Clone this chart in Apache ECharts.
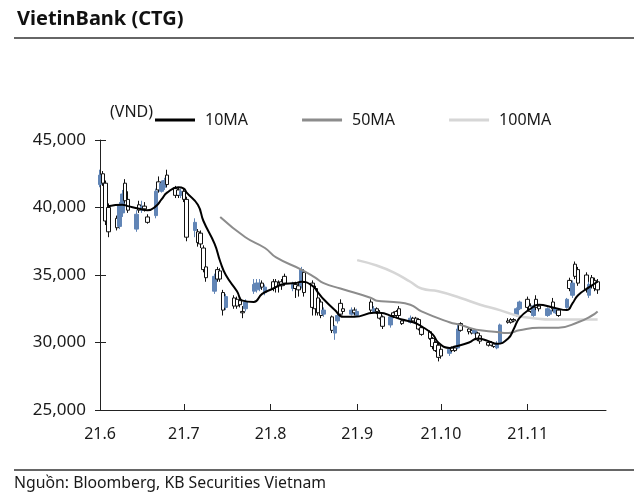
<!DOCTYPE html>
<html><head><meta charset="utf-8">
<script src="https://cdn.jsdelivr.net/npm/echarts@6/dist/echarts.min.js"></script>
<style>html,body{margin:0;padding:0;background:#fff}#c{width:640px;height:502px}</style>
</head><body><div id="c"></div>
<script>
// Trading days (2021)
const dates = [
'2021-06-01','2021-06-02','2021-06-03','2021-06-04','2021-06-07','2021-06-08','2021-06-09','2021-06-10','2021-06-11','2021-06-14','2021-06-15','2021-06-16','2021-06-17','2021-06-18','2021-06-21','2021-06-22','2021-06-23','2021-06-24','2021-06-25','2021-06-28','2021-06-29','2021-06-30',
'2021-07-01','2021-07-02','2021-07-05','2021-07-06','2021-07-07','2021-07-08','2021-07-09','2021-07-12','2021-07-13','2021-07-14','2021-07-15','2021-07-16','2021-07-19','2021-07-20','2021-07-21','2021-07-22','2021-07-23','2021-07-26','2021-07-27','2021-07-28','2021-07-29','2021-07-30',
'2021-08-02','2021-08-03','2021-08-04','2021-08-05','2021-08-06','2021-08-09','2021-08-10','2021-08-11','2021-08-12','2021-08-13','2021-08-16','2021-08-17','2021-08-18','2021-08-19','2021-08-20','2021-08-23','2021-08-24','2021-08-25','2021-08-26','2021-08-27','2021-08-30','2021-08-31',
'2021-09-01','2021-09-06','2021-09-07','2021-09-08','2021-09-09','2021-09-10','2021-09-13','2021-09-14','2021-09-15','2021-09-16','2021-09-17','2021-09-20','2021-09-21','2021-09-22','2021-09-23','2021-09-24','2021-09-27','2021-09-28','2021-09-29','2021-09-30',
'2021-10-01','2021-10-04','2021-10-05','2021-10-06','2021-10-07','2021-10-08','2021-10-11','2021-10-12','2021-10-13','2021-10-14','2021-10-15','2021-10-18','2021-10-19','2021-10-20','2021-10-21','2021-10-22','2021-10-25','2021-10-26','2021-10-27','2021-10-28','2021-10-29',
'2021-11-01','2021-11-02','2021-11-03','2021-11-04','2021-11-05','2021-11-08','2021-11-09','2021-11-10','2021-11-11','2021-11-12','2021-11-15','2021-11-16','2021-11-17','2021-11-18','2021-11-19','2021-11-22','2021-11-23','2021-11-24','2021-11-25','2021-11-26'
];
const openP = [
41700,42500,41800,40000,39200,38600,39600,41800,40600,38400,40200,39800,40100,39300,39400,41900,41200,41500,42400,41400,41300,40900,
41200,40600,38300,38200,38100,37000,35600,33800,35400,35300,33700,32600,33300,33200,33100,32300,32500,33800,33900,34000,34400,33700,
34500,34500,34400,34500,34900,34000,34300,34200,34200,35200,34400,34000,33300,33000,32100,31900,30700,31600,32900,32500,32100,32400,
32000,33000,32300,32500,32200,31900,31300,32200,32300,32500,31600,31500,31800,31800,31700,31100,30800,30300,30000,29800,
29500,29200,29600,29600,29600,31400,31000,30900,30700,30700,30500,30000,30000,29900,29600,30000,31600,31700,31700,32000,32500,
33200,32700,32000,33200,32700,32000,32100,33000,32200,32400,32600,34600,33500,35800,35400,35000,33500,34800,34600,34500
];
const closeP = [
42400,41800,39000,38200,38500,40200,41000,40500,39800,39500,39800,40100,39900,38900,41200,41300,41800,42000,41700,40900,40900,41200,
40600,37800,38900,37400,37300,35400,34800,34900,34700,34700,32400,33400,32700,32700,32800,32200,33000,34300,34400,34400,34100,34100,
34000,34100,34200,34200,34400,34300,34000,33900,35400,33700,32600,32500,32200,32000,32400,30900,31200,32000,32100,32300,32400,32200,
32300,32400,32500,32300,31800,31200,31900,32000,32000,32000,31400,31800,31600,31500,31000,30600,30300,29700,29400,28900,
29000,29500,29400,29400,31000,30900,30800,30700,30900,30200,30100,29800,29800,29700,29900,31300,31500,31500,31600,32500,33000,
32600,32300,32700,32600,32500,32500,32400,32500,32500,32000,33200,34000,34400,34900,34400,33900,34300,34200,34000,33900
];
const lowP = [
41500,41600,38700,37800,38300,38400,39300,40300,39600,38200,39600,39600,39700,38800,39200,41100,41100,41300,41500,40700,40700,40700,
40400,37500,37800,37100,37000,35200,34500,33600,34500,34500,32000,32400,32500,32500,32600,31800,32300,33600,33700,33800,33900,33500,
33800,33700,33700,33900,34200,33800,33300,33400,34000,33400,32000,32000,32000,31800,31900,30700,30200,31400,31900,32100,32000,32000,
31900,32200,32200,32100,31700,31000,31100,31800,31900,31800,31300,31400,31500,31400,30900,30500,30200,29500,29300,28600,
28800,29000,29300,29300,29500,30800,30600,30600,30600,30100,29900,29700,29700,29600,29500,29900,31400,31400,31500,31900,32400,
32400,32200,31900,32400,32300,31900,32000,32300,32100,31900,32500,33800,33300,34700,34200,33700,33300,34000,33800,33600
];
const highP = [
42800,42700,42000,40300,39400,40400,41300,42100,41200,39800,40500,40500,40400,39500,41400,42300,42000,42200,42800,41600,41500,41400,
41400,40800,39200,38400,38300,37200,35800,35100,35600,35500,33900,33600,33500,33400,33300,32700,33200,34700,34700,34700,34600,34300,
34700,34700,34600,34700,35100,34500,34500,34400,35600,35400,34600,34200,33500,33200,32600,32000,31300,32200,33200,32700,32600,32600,
32500,33200,32700,32600,32400,32000,32000,32300,32400,32700,31700,32000,31900,31900,31800,31200,30900,30400,30100,30000,
29700,29600,29700,29700,31300,31500,31100,31000,31000,30800,30600,30100,30100,30000,30100,31400,31800,31800,31800,32600,33100,
33400,32900,32800,33500,32800,32600,32500,33300,32600,32500,33300,34800,34600,36000,35600,35200,34500,35000,34800,34700
];
const ma10Dates = ['2021-06-04','2021-06-09','2021-06-11','2021-06-15','2021-06-18','2021-06-21','2021-06-23','2021-06-25','2021-06-29','2021-07-01','2021-07-02','2021-07-06','2021-07-08','2021-07-12','2021-07-14','2021-07-16','2021-07-20','2021-07-22','2021-07-26','2021-07-29','2021-08-02','2021-08-05','2021-08-10','2021-08-12','2021-08-16','2021-08-18','2021-08-20','2021-08-24','2021-08-27','2021-08-31','2021-09-07','2021-09-09','2021-09-14','2021-09-17','2021-09-21','2021-09-24','2021-09-28','2021-09-30','2021-10-04','2021-10-06','2021-10-11','2021-10-14','2021-10-18','2021-10-21','2021-10-25','2021-10-27','2021-10-29','2021-11-02','2021-11-05','2021-11-10','2021-11-15','2021-11-17','2021-11-19','2021-11-23','2021-11-26'];
const ma10 = [40100,40200,40100,39900,39800,40100,40600,41100,41500,41400,41100,40200,39000,37300,36000,35000,33800,33100,33000,33600,34000,34300,34400,34500,34200,33700,33200,32400,31900,31900,32200,32200,31900,31700,31500,31200,30600,30000,29600,29700,30000,30300,30100,29900,30300,31000,31800,32500,32800,32600,32400,32900,33500,34100,34500];
const ma50Dates = ['2021-07-14','2021-07-23','2021-07-30','2021-08-03','2021-08-12','2021-08-17','2021-08-20','2021-08-26','2021-09-06','2021-09-08','2021-09-14','2021-09-20','2021-09-24','2021-10-04','2021-10-08','2021-10-11','2021-10-15','2021-10-20','2021-10-25','2021-10-29','2021-11-05','2021-11-12','2021-11-19','2021-11-24','2021-11-26'];
const ma50 = [39300,37800,37000,36300,35400,34800,34400,34000,33300,33100,33000,32800,32300,31500,31300,31100,30900,30800,30700,30900,31100,31100,31500,32000,32300];
const ma100Dates = ['2021-09-01','2021-09-08','2021-09-14','2021-09-20','2021-09-24','2021-09-30','2021-10-08','2021-10-15','2021-10-22','2021-10-28','2021-11-03','2021-11-10','2021-11-17','2021-11-26'];
const ma100 = [36100,35700,35200,34500,34000,33800,33300,32800,32400,32000,31800,31700,31700,31700];
const xTickLabels = ['21.6','21.7','21.8','21.9','21.10','21.11'];
const legendNames = ['10MA','50MA','100MA'];

const pair = (d, v) => d.map((x, i) => [x, v[i]]);
const candles = dates.map((d, i) => [d, openP[i], closeP[i], lowP[i], highP[i]]);
const FONT = '"Noto Sans", "Open Sans", sans-serif';
const TXT = '#1a1a1a';

const chart = echarts.init(document.getElementById('c'), null, {renderer: 'canvas'});
chart.setOption({
  animation: false,
  backgroundColor: '#fff',
  textStyle: {fontFamily: FONT},
  title: {text: 'VietinBank (CTG)', left: 12, top: 4,
    textStyle: {fontFamily: FONT, fontSize: 20, fontWeight: 'bold', color: '#111'}},
  legend: {
    data: legendNames, left: 150, top: 107, icon: 'rect', itemWidth: 40, itemHeight: 3,
    itemGap: 54, textStyle: {fontFamily: FONT, fontSize: 16, color: TXT, padding: [0, 0, 0, 5]}
  },
  graphic: [
    {type: 'line', shape: {x1: 14, y1: 38, x2: 634, y2: 38}, style: {stroke: '#333', lineWidth: 1.5}},
    {type: 'line', shape: {x1: 14, y1: 470, x2: 634, y2: 470}, style: {stroke: '#333', lineWidth: 1.5}},
    {type: 'text', left: 110, top: 104, style: {text: '(VND)', font: '16px ' + FONT, fill: TXT}},
    {type: 'text', left: 14, top: 475, style: {text: 'Nguồn: Bloomberg, KB Securities Vietnam', font: '15.8px ' + FONT, fill: TXT}}
  ],
  grid: {left: 100, right: 34, top: 140, bottom: 92},
  xAxis: {
    type: 'time', min: '2021-06-01', max: '2021-11-29',
    minInterval: 28 * 86400000, maxInterval: 31 * 86400000,
    axisLine: {show: true, lineStyle: {color: '#222', width: 1}},
    axisTick: {show: true, inside: true, length: 6, lineStyle: {color: '#222'}},
    splitLine: {show: false},
    axisLabel: {
      fontFamily: FONT, fontSize: 16, color: TXT, margin: 16, showMaxLabel: false, showMinLabel: true,
      formatter: v => { const m = new Date(v).getMonth(); return xTickLabels[m - 5] || ''; }
    }
  },
  yAxis: [{
    type: 'value', min: 25000, max: 45000, interval: 5000,
    axisLine: {show: true, lineStyle: {color: '#222', width: 1}},
    axisTick: {show: true, length: 5, lineStyle: {color: '#222'}},
    splitLine: {show: false},
    axisLabel: {fontFamily: FONT, fontSize: 17, color: TXT, margin: 14,
      formatter: v => v.toLocaleString('en-US')}
  }, {
    type: 'value', min: 25000, max: 45000, interval: 5000, position: 'left',
    axisLine: {show: false}, axisLabel: {show: false}, splitLine: {show: false},
    axisTick: {show: true, inside: true, length: 6, lineStyle: {color: '#222'}}
  }],
  series: [{
    type: 'candlestick', name: 'CTG', data: candles, encode: {x: 0, y: [1, 2, 3, 4]},
    barWidth: 4,
    itemStyle: {color: '#6185b6', color0: '#ffffff', borderColor: '#6185b6', borderColor0: '#111', borderWidth: 1}
  }, {
    type: 'line', name: '10MA', data: pair(ma10Dates, ma10), smooth: true, showSymbol: false,
    lineStyle: {color: '#000', width: 2}, itemStyle: {color: '#000'}, z: 5
  }, {
    type: 'line', name: '50MA', data: pair(ma50Dates, ma50), smooth: true, showSymbol: false,
    lineStyle: {color: '#8c8c8c', width: 2}, itemStyle: {color: '#8c8c8c'}, z: 4
  }, {
    type: 'line', name: '100MA', data: pair(ma100Dates, ma100), smooth: true, showSymbol: false,
    lineStyle: {color: '#d6d6d6', width: 2.5}, itemStyle: {color: '#d6d6d6'}, z: 3
  }]
});
</script></body></html>
